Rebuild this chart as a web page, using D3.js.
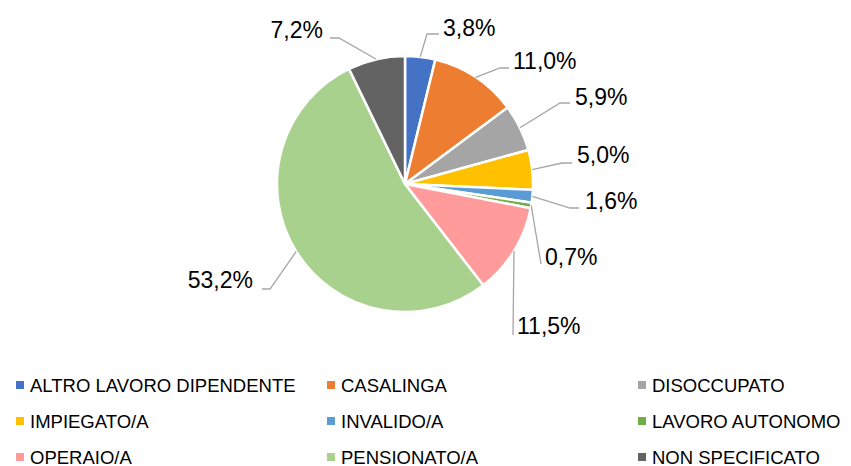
<!DOCTYPE html>
<html><head><meta charset="utf-8">
<script src="https://cdn.jsdelivr.net/npm/d3@7"></script>
<style>
html,body{margin:0;padding:0;background:#fff;}
svg{display:block;font-family:"Liberation Sans",Arial,sans-serif;}
</style></head>
<body><svg id="chart" width="851" height="466"></svg>
<script>
const categories = ["ALTRO LAVORO DIPENDENTE","CASALINGA","DISOCCUPATO","IMPIEGATO/A","INVALIDO/A","LAVORO AUTONOMO","OPERAIO/A","PENSIONATO/A","NON SPECIFICATO"];
const values = [3.8, 11.0, 5.9, 5.0, 1.6, 0.7, 11.5, 53.2, 7.2];
const labels = ["3,8%","11,0%","5,9%","5,0%","1,6%","0,7%","11,5%","53,2%","7,2%"];
const colors = ["#4472C4","#ED7D31","#A5A5A5","#FFC000","#5B9BD5","#70AD47","#FF9B9B","#A9D18E","#636363"];

// layout of label text (relative to pie center) and leader elbow points
const labelLayout = [
  {tx: 38, ty:-156, ex: 22, ey:-150, hx: 34, anchor:"start"},
  {tx:108, ty:-123, ex: 95, ey:-116, hx:104, anchor:"start"},
  {tx:170, ty: -87, ex:155, ey: -81, hx:165, anchor:"start"},
  {tx:172, ty: -29, ex:157, ey: -21, hx:167, anchor:"start"},
  {tx:180, ty:  17, ex:165, ey:  24, hx:174, anchor:"start"},
  {tx:140, ty:  73, ex:136, ey:  80, hx:136, anchor:"start"},
  {tx:112, ty: 142, ex:108, ey: 151, hx:108, anchor:"start"},
  {tx:-152,ty:  96, ex:-135,ey: 105, hx:-143, anchor:"end"},
  {tx:-82, ty:-154, ex:-66, ey:-146, hx:-75, anchor:"end"}
];

const svg = d3.select("#chart");
const cx = 405, cy = 184, R = 128;
const g = svg.append("g").attr("transform", `translate(${cx},${cy})`);

const data = categories.map((c,i)=>({cat:c, value:values[i], label:labels[i], color:colors[i], lay:labelLayout[i]}));
const pie = d3.pie().value(d=>d.value).sort(null).startAngle(0).endAngle(2*Math.PI);
const arc = d3.arc().innerRadius(0).outerRadius(R);
const arcs = pie(data);

g.selectAll("path.slice").data(arcs).join("path")
  .attr("class","slice")
  .attr("d", arc)
  .attr("fill", d=>d.data.color)
  .attr("stroke","#fff").attr("stroke-width",2.5).attr("stroke-linejoin","miter");

// leader lines
arcs.forEach(a=>{
  const mid = (a.startAngle+a.endAngle)/2;
  const sx = R*Math.sin(mid), sy = -R*Math.cos(mid);
  const L = a.data.lay;
  const line = d3.line();
  g.append("path")
    .attr("d", line([[sx,sy],[L.ex,L.ey],[L.hx,L.ey]]))
    .attr("fill","none").attr("stroke","#A6A6A6").attr("stroke-width",1.3);
  g.append("text")
    .attr("x", L.tx).attr("y", L.ty)
    .attr("text-anchor", L.anchor)
    .attr("dominant-baseline","central")
    .attr("font-size", 23).attr("fill","#000")
    .text(a.data.label);
});

// legend
const colX = [16, 327, 638];
const rowY = [385, 421, 457];
const leg = svg.append("g");
data.forEach((d,i)=>{
  const col = i%3, row = Math.floor(i/3);
  const x = colX[col], y = rowY[row];
  leg.append("rect").attr("x",x).attr("y",y-4).attr("width",8).attr("height",8).attr("fill",d.color);
  leg.append("text").attr("x",x+14).attr("y",y).attr("dominant-baseline","central")
    .attr("font-size",18.5).attr("fill","#000").text(d.cat);
});
</script></body></html>
